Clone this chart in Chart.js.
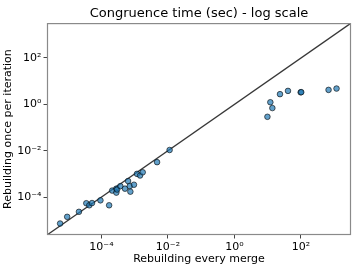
<!DOCTYPE html>
<html>
<head>
<meta charset="utf-8">
<script src="https://cdn.jsdelivr.net/npm/chart.js@4.4.1/dist/chart.umd.min.js"></script>
<style>
  html, body { margin: 0; padding: 0; background: #fff; }
  #wrap { width: 363px; height: 272px; }
</style>
</head>
<body>
<div id="wrap"><canvas id="congruenceChart"></canvas></div>
<script>
// congruence time in seconds, one entry per benchmark
const mergeTimes = [
    5.7e-6, 9.3e-6, 2.1e-5, 3.5e-5, 4.3e-5, 5.2e-5, 9.3e-5, 1.7e-4,
    2.1e-4, 2.8e-4, 2.8e-4, 2.95e-4, 3.7e-4, 5.1e-4, 6.3e-4, 7.1e-4,
    7.4e-4, 9.5e-4, 1.17e-3, 1.45e-3, 1.74e-3, 4.7e-3, 1.12e-2,
    9.8, 12, 13.8, 23.4, 40.7, 98, 102, 676, 1175
];
const iterTimes = [
    7.2e-6, 1.4e-5, 2.3e-5, 5.4e-5, 4.4e-5, 5.5e-5, 7.2e-5, 4.4e-5,
    1.9e-4, 2.3e-4, 1.55e-4, 2.1e-4, 2.95e-4, 2.3e-4, 4.9e-4, 2.95e-4,
    1.7e-4, 3.4e-4, 1.0e-3, 8.5e-4, 1.17e-3, 3.2e-3, 1.07e-2,
    0.29, 1.23, 0.69, 2.75, 3.8, 3.3, 3.35, 4.2, 4.8
];
const tickValues = [1e-4, 1e-2, 1, 1e2];
const tickLabels = ['10\u207B\u2074', '10\u207B\u00B2', '10\u2070', '10\u00B2'];
const axisMin = 2.3e-6;
const axisMax = 3.2e3;

const FONT = 'DejaVu Sans';

const points = mergeTimes.map((x, i) => ({ x: x, y: iterTimes[i] }));

// top/right spines like matplotlib's box
const frame = {
    id: 'frame',
    afterDraw(chart) {
        const a = chart.chartArea;
        const c = chart.ctx;
        c.save();
        c.strokeStyle = '#8a8a8a';
        c.lineWidth = 1.2;
        c.strokeRect(a.left + 0.5, a.top + 0.5, a.right - a.left - 1, a.bottom - a.top - 1);
        c.restore();
    }
};

const logAxis = (pos, title, titlePad) => ({
    type: 'logarithmic',
    position: pos,
    min: axisMin,
    max: axisMax,
    afterBuildTicks: (scale) => {
        scale.ticks = tickValues.map(v => ({ value: v }));
    },
    afterFit: (scale) => {
        if (pos === 'left') scale.width = 47;
        else scale.height = 37;
    },
    ticks: {
        autoSkip: false,
        maxRotation: 0,
        padding: 2,
        color: '#000',
        font: { family: FONT, size: 11 },
        callback: (v) => {
            const i = tickValues.findIndex(t => Math.abs(t - v) / t < 1e-6);
            return i >= 0 ? tickLabels[i] : '';
        }
    },
    grid: {
        drawOnChartArea: false,
        drawTicks: true,
        tickLength: 3.5,
        color: '#444'
    },
    border: { display: false },
    title: {
        display: true,
        text: title,
        color: '#000',
        font: { family: FONT, size: 11 },
        padding: titlePad
    }
});

new Chart(document.getElementById('congruenceChart'), {
    data: {
        datasets: [
            {
                type: 'scatter',
                label: 'benchmarks',
                data: points,
                pointRadius: 2.8,
                pointBorderWidth: 0.8,
                pointBackgroundColor: 'rgba(31,119,180,0.7)',
                pointBorderColor: 'rgba(0,0,0,0.75)',
                order: 1
            },
            {
                type: 'line',
                label: 'y = x',
                data: [{ x: axisMin, y: axisMin }, { x: axisMax, y: axisMax }],
                borderColor: '#383838',
                borderWidth: 1.3,
                pointRadius: 0,
                fill: false,
                order: 2
            }
        ]
    },
    options: {
        responsive: true,
        maintainAspectRatio: false,
        animation: false,
        devicePixelRatio: 1,
        layout: { padding: { left: 0, right: 12, top: 0, bottom: 0 } },
        plugins: {
            legend: { display: false },
            tooltip: { enabled: false },
            title: {
                display: true,
                fullSize: false,
                text: 'Congruence time (sec) - log scale',
                color: '#000',
                font: { family: FONT, size: 13, weight: 'normal' },
                padding: { top: 6, bottom: 1.5 }
            }
        },
        scales: {
            x: logAxis('bottom', 'Rebuilding every merge', { top: 0, bottom: 6 }),
            y: logAxis('left', 'Rebuilding once per iteration', { top: 2, bottom: 0 })
        }
    },
    plugins: [frame]
});
</script>
</body>
</html>
